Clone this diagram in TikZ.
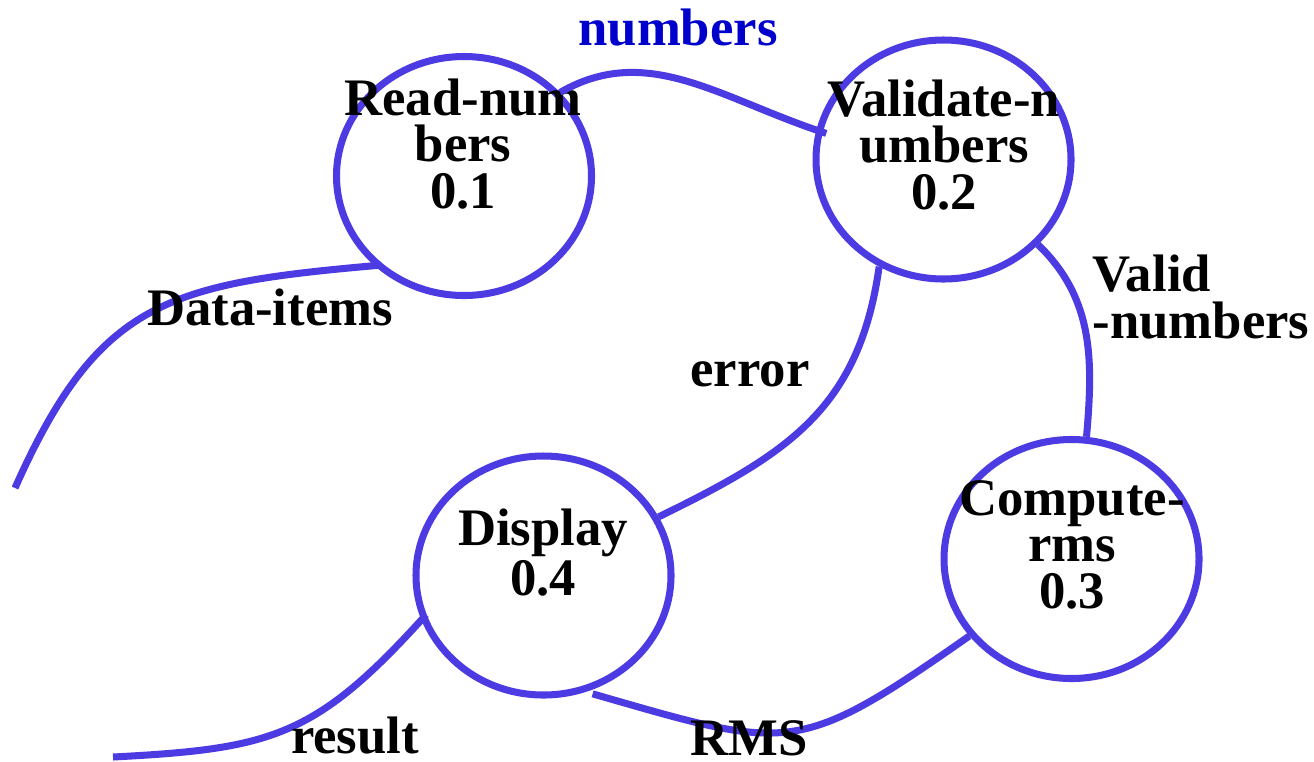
\documentclass[tikz,border=0pt]{standalone}
\usepackage{fontspec}
\setmainfont{Liberation Serif}
\usepackage{tikz}
\usetikzlibrary{shapes}
\definecolor{flowblue}{RGB}{76,58,226}
\definecolor{labelblue}{RGB}{0,0,204}
\tikzset{
  process/.style={ellipse, draw=flowblue, line width=2pt, minimum width=2.55cm, minimum height=2.39cm, inner sep=0pt},
  proctext/.style={align=center, font=\bfseries\fontsize{15}{13.2}\selectfont, anchor=base, inner sep=0pt},
  flowlabel/.style={align=left, font=\bfseries\fontsize{15}{13.2}\selectfont, anchor=base, inner sep=0pt},
  flow/.style={draw=flowblue, line width=2pt}
}
\newcommand{\dfdprocess}[4] {\node at (#1) (#2) [process] {}; \node at (#3) (#2-text) [proctext] {#4};}
\newcommand{\dfdflow}[5] {\draw [flow, #5] (#1) to[out=#3, in=#4] (#2);}

\begin{document}
\begin{tikzpicture}
\useasboundingbox (0,0) rectangle (13.14,7.61);

\dfdprocess {4.64,5.85} {read} {4.63,5.53} {Read-num\\bers\\0.1};
\dfdprocess {9.435,6.015} {validate} {9.44,5.52} {Validate-n\\umbers\\0.2};
\dfdprocess {10.715,2.02} {compute} {10.72,1.53} {Compute-\\rms\\0.3};
\dfdprocess {5.435,1.855} {display} {5.43,1.66} {Display\\0.4};

\coordinate (dataend) at (0.15,2.73);
\coordinate (resultend) at (1.13,0.04);

\dfdflow {dataend} {read.225} {66} {185} {looseness=1.25, shorten >=-2pt};
\dfdflow {read.41} {validate.167} {30} {162} {shorten >=-3pt};
\dfdflow {validate.239} {display.27} {262} {26} {looseness=1.1};
\dfdflow {validate.318} {compute.83} {316} {85} {};
\dfdflow {display.290} {compute.217} {344} {215} {looseness=1.4, shorten <=2pt};
\dfdflow {resultend} {display.200} {3} {228} {looseness=1.2, shorten >=-2pt};

\node at (6.78,7.16) (numbers) [flowlabel, text=labelblue] {numbers};
\node at (2.70,4.36) (dataitems) [flowlabel] {Data-items};
\node at (7.50,3.75) (error) [flowlabel] {error};
\node at (10.92,4.23) (validnumbers) [flowlabel, anchor=base west] {Valid\\-numbers};
\node at (3.55,0.08) (result) [flowlabel] {result};
\node at (7.49,0.06) (rms) [flowlabel] {RMS};

\end{tikzpicture}
\end{document}
